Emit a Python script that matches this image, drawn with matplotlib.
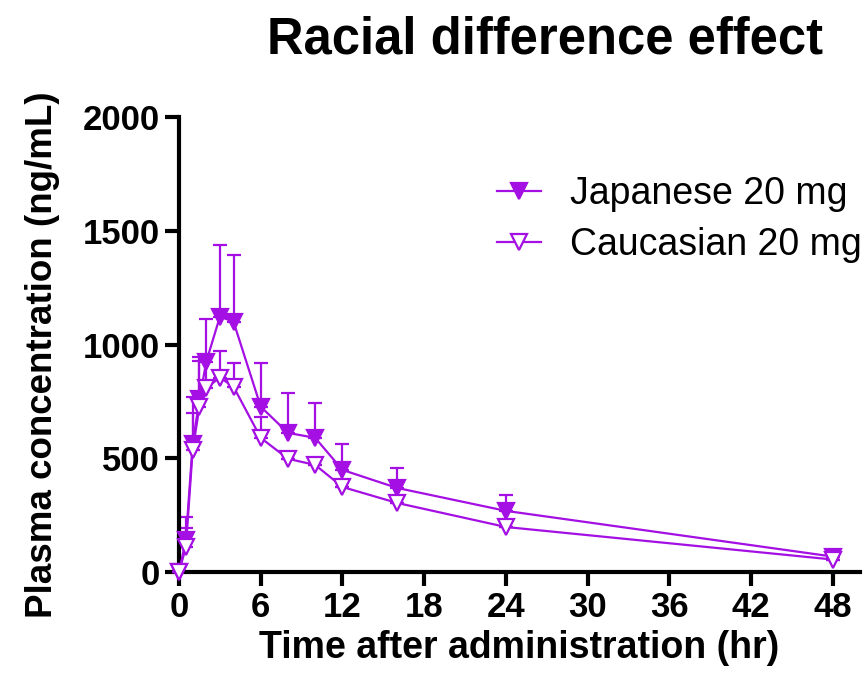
import numpy as np
import matplotlib
matplotlib.use("Agg")
import matplotlib.pyplot as plt

# ---------DATA----------
time_hr = [0, 0.5, 1, 1.5, 2, 3, 4, 6, 8, 10, 12, 16, 24, 48]

japanese = [0, 141, 564, 760, 925, 1123, 1101, 727, 612, 590, 449, 370, 269, 68]
japanese_top = [0, 243, 771, 947, 1114, 1440, 1396, 921, 788, 744, 564, 458, 339, 78]

caucasian = [0, 110, 537, 727, 810, 855, 815, 590, 498, 471, 374, 304, 198, 55]
caucasian_top = [0, 194, 700, 930, 947, 973, 921, 683, 498, 471, 374, 304, 198, 55]

x_ticks = [0, 6, 12, 18, 24, 30, 36, 42, 48]
y_ticks = [0, 500, 1000, 1500, 2000]

purple = "#A40FE3"

plt.rcParams['font.family'] = ['Liberation Sans', 'DejaVu Sans']

# ---------PLOT----------
fig = plt.figure(figsize=(8.65, 6.9), dpi=100, facecolor="white")
ax = fig.add_axes([0.207, 0.171, 0.787, 0.659])

def plot_series(y, top, filled, label):
    y = np.array(y, dtype=float)
    err_up = np.array(top, dtype=float) - y
    err = np.vstack([np.zeros_like(err_up), err_up])
    ax.errorbar(time_hr, y, yerr=err, fmt="none", ecolor=purple, elinewidth=1.6,
                capsize=5, capthick=1.6, clip_on=False, zorder=2)
    ax.plot(time_hr, y, "-", color=purple, lw=1.6, marker="v", markersize=12,
            markerfacecolor=purple if filled else "white", markeredgecolor=purple,
            markeredgewidth=1.6, clip_on=False, label=label, zorder=3)

plot_series(japanese, japanese_top, True, "Japanese 20 mg")
plot_series(caucasian, caucasian_top, False, "Caucasian 20 mg")

ax.set_xlim(0, 50)
ax.set_ylim(0, 2000)
ax.set_xticks(x_ticks)
ax.set_yticks(y_ticks)

for s in ["top", "right"]:
    ax.spines[s].set_visible(False)
for s in ["left", "bottom"]:
    ax.spines[s].set_linewidth(3)
ax.tick_params(axis="both", width=3, length=10, labelsize=25, pad=4)
for lab in ax.get_xticklabels() + ax.get_yticklabels():
    lab.set_fontweight("bold")

ax.set_xlabel("Time after administration (hr)", fontsize=27, fontweight="bold", labelpad=4)
ax.set_ylabel("Plasma concentration (ng/mL)", fontsize=26.5, fontweight="bold", labelpad=16)
ax.yaxis.label.set_y(0.478)
ax.set_title("Racial difference effect", fontsize=36.5, fontweight="bold", pad=46, x=0.537)

ax.legend(loc="upper left", bbox_to_anchor=(497 / 865, 1 - 176 / 690),
          bbox_transform=fig.transFigure, frameon=False, fontsize=27,
          borderpad=0, borderaxespad=0,
          handlelength=1.17, handletextpad=0.77, labelspacing=0.39)

fig.savefig("out.png", dpi=100)
